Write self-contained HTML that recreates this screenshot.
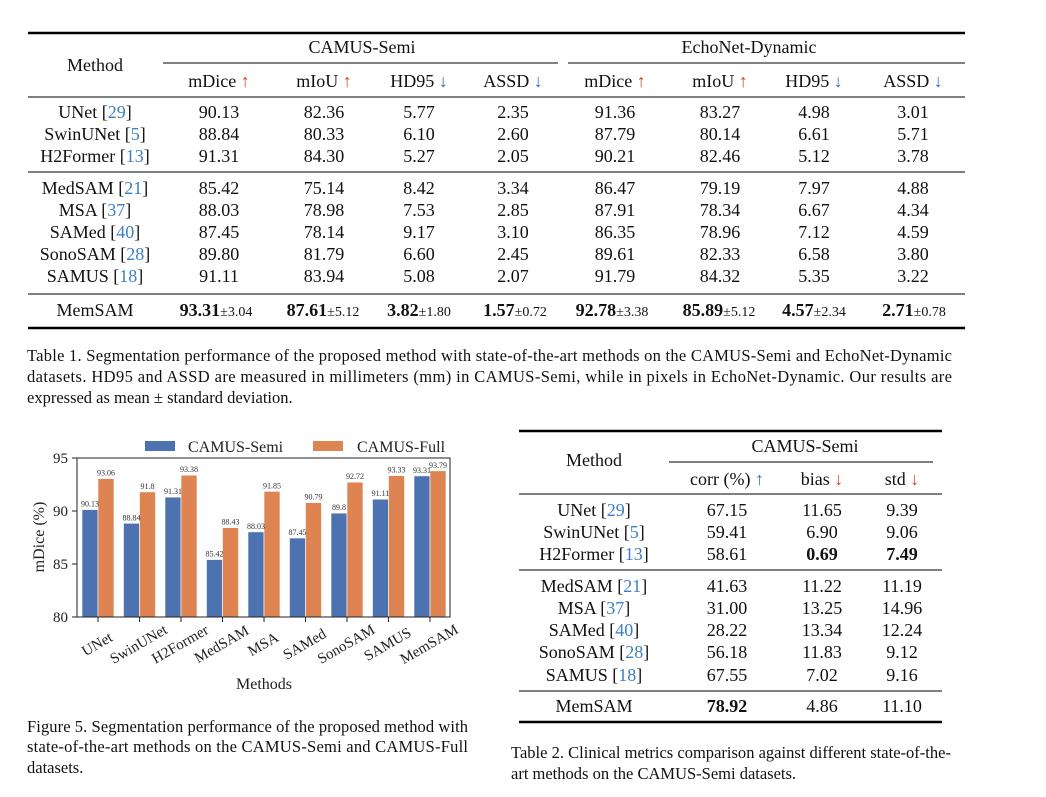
<!DOCTYPE html>
<html><head><meta charset="utf-8"><style>
html,body{margin:0;padding:0;background:#fff;}
svg{display:block;font-family:"Liberation Serif",serif;}
.t{font-size:18px;fill:#111;}
.c{font-size:16.5px;fill:#111;}
.r{fill:#3b7fc4;}
.up{fill:#c8442a;}
.dn{fill:#2f6fb5;}
.s{font-size:14px;}
</style></head><body>
<svg width="1046" height="797" viewBox="0 0 1046 797" xmlns="http://www.w3.org/2000/svg">
<g class="t" text-anchor="middle">
<line x1="28" y1="33" x2="965" y2="33" stroke="#000" stroke-width="2.4"/>
<text x="95" y="71">Method</text>
<text x="362" y="53">CAMUS-Semi</text>
<text x="749" y="53">EchoNet-Dynamic</text>
<line x1="163" y1="63" x2="558" y2="63" stroke="#000" stroke-width="1"/>
<line x1="568" y1="63" x2="965" y2="63" stroke="#000" stroke-width="1"/>
<text x="219" y="87">mDice <tspan class="up">↑</tspan></text>
<text x="324" y="87">mIoU <tspan class="up">↑</tspan></text>
<text x="419" y="87">HD95 <tspan class="dn">↓</tspan></text>
<text x="513" y="87">ASSD <tspan class="dn">↓</tspan></text>
<text x="615" y="87">mDice <tspan class="up">↑</tspan></text>
<text x="720" y="87">mIoU <tspan class="up">↑</tspan></text>
<text x="814" y="87">HD95 <tspan class="dn">↓</tspan></text>
<text x="913" y="87">ASSD <tspan class="dn">↓</tspan></text>
<line x1="28" y1="97" x2="965" y2="97" stroke="#000" stroke-width="1"/>
<text x="95" y="118">UNet [<tspan class="r">29</tspan>]</text><text x="219" y="118">90.13</text><text x="324" y="118">82.36</text><text x="419" y="118">5.77</text><text x="513" y="118">2.35</text><text x="615" y="118">91.36</text><text x="720" y="118">83.27</text><text x="814" y="118">4.98</text><text x="913" y="118">3.01</text>
<text x="95" y="140">SwinUNet [<tspan class="r">5</tspan>]</text><text x="219" y="140">88.84</text><text x="324" y="140">80.33</text><text x="419" y="140">6.10</text><text x="513" y="140">2.60</text><text x="615" y="140">87.79</text><text x="720" y="140">80.14</text><text x="814" y="140">6.61</text><text x="913" y="140">5.71</text>
<text x="95" y="162">H2Former [<tspan class="r">13</tspan>]</text><text x="219" y="162">91.31</text><text x="324" y="162">84.30</text><text x="419" y="162">5.27</text><text x="513" y="162">2.05</text><text x="615" y="162">90.21</text><text x="720" y="162">82.46</text><text x="814" y="162">5.12</text><text x="913" y="162">3.78</text>
<line x1="28" y1="172" x2="965" y2="172" stroke="#000" stroke-width="1"/>
<text x="95" y="194">MedSAM [<tspan class="r">21</tspan>]</text><text x="219" y="194">85.42</text><text x="324" y="194">75.14</text><text x="419" y="194">8.42</text><text x="513" y="194">3.34</text><text x="615" y="194">86.47</text><text x="720" y="194">79.19</text><text x="814" y="194">7.97</text><text x="913" y="194">4.88</text>
<text x="95" y="216">MSA [<tspan class="r">37</tspan>]</text><text x="219" y="216">88.03</text><text x="324" y="216">78.98</text><text x="419" y="216">7.53</text><text x="513" y="216">2.85</text><text x="615" y="216">87.91</text><text x="720" y="216">78.34</text><text x="814" y="216">6.67</text><text x="913" y="216">4.34</text>
<text x="95" y="238">SAMed [<tspan class="r">40</tspan>]</text><text x="219" y="238">87.45</text><text x="324" y="238">78.14</text><text x="419" y="238">9.17</text><text x="513" y="238">3.10</text><text x="615" y="238">86.35</text><text x="720" y="238">78.96</text><text x="814" y="238">7.12</text><text x="913" y="238">4.59</text>
<text x="95" y="260">SonoSAM [<tspan class="r">28</tspan>]</text><text x="219" y="260">89.80</text><text x="324" y="260">81.79</text><text x="419" y="260">6.60</text><text x="513" y="260">2.45</text><text x="615" y="260">89.61</text><text x="720" y="260">82.33</text><text x="814" y="260">6.58</text><text x="913" y="260">3.80</text>
<text x="95" y="282">SAMUS [<tspan class="r">18</tspan>]</text><text x="219" y="282">91.11</text><text x="324" y="282">83.94</text><text x="419" y="282">5.08</text><text x="513" y="282">2.07</text><text x="615" y="282">91.79</text><text x="720" y="282">84.32</text><text x="814" y="282">5.35</text><text x="913" y="282">3.22</text>
<line x1="28" y1="294" x2="965" y2="294" stroke="#000" stroke-width="1"/>
<text x="95" y="316">MemSAM</text>
<text x="216" y="316"><tspan font-weight="bold">93.31</tspan><tspan class="s">±3.04</tspan></text>
<text x="323" y="316"><tspan font-weight="bold">87.61</tspan><tspan class="s">±5.12</tspan></text>
<text x="419" y="316"><tspan font-weight="bold">3.82</tspan><tspan class="s">±1.80</tspan></text>
<text x="515" y="316"><tspan font-weight="bold">1.57</tspan><tspan class="s">±0.72</tspan></text>
<text x="612" y="316"><tspan font-weight="bold">92.78</tspan><tspan class="s">±3.38</tspan></text>
<text x="719" y="316"><tspan font-weight="bold">85.89</tspan><tspan class="s">±5.12</tspan></text>
<text x="814" y="316"><tspan font-weight="bold">4.57</tspan><tspan class="s">±2.34</tspan></text>
<text x="914" y="316"><tspan font-weight="bold">2.71</tspan><tspan class="s">±0.78</tspan></text>
<line x1="28" y1="328" x2="965" y2="328" stroke="#000" stroke-width="2.4"/>
</g>
<g class="c">
<text x="27" y="361" textLength="925" lengthAdjust="spacing">Table 1.  Segmentation performance of the proposed method with state-of-the-art methods on the CAMUS-Semi and EchoNet-Dynamic</text>
<text x="27" y="382" textLength="925" lengthAdjust="spacing">datasets.  HD95 and ASSD are measured in millimeters (mm) in CAMUS-Semi, while in pixels in EchoNet-Dynamic.  Our results are</text>
<text x="27" y="403">expressed as mean ± standard deviation.</text>
</g>

<g font-family="Liberation Serif,serif">
<rect x="145" y="441" width="30" height="10" fill="#4c72b0"/>
<text x="188" y="452" font-size="16" fill="#222">CAMUS-Semi</text>
<rect x="313" y="441" width="30" height="10" fill="#dd8452"/>
<text x="357" y="452" font-size="16" fill="#222">CAMUS-Full</text>
<g id="bars"></g>
<rect x="77" y="458" width="373" height="159" fill="none" stroke="#222" stroke-width="1"/>
<g font-size="15" fill="#222" text-anchor="end">
<text x="68" y="463">95</text><text x="68" y="516">90</text><text x="68" y="569">85</text><text x="68" y="622">80</text>
</g>
<g stroke="#222"><line x1="72" y1="458" x2="77" y2="458"/><line x1="72" y1="511" x2="77" y2="511"/><line x1="72" y1="564" x2="77" y2="564"/><line x1="72" y1="617" x2="77" y2="617"/></g>
<text transform="translate(44,537) rotate(-90)" font-size="16" text-anchor="middle" fill="#222">mDice (%)</text>
<text x="264" y="689" font-size="16" text-anchor="middle" fill="#222">Methods</text>
</g>
<g class="c">
<text x="27" y="732" textLength="441" lengthAdjust="spacing">Figure 5. Segmentation performance of the proposed method with</text>
<text x="27" y="752" textLength="441" lengthAdjust="spacing">state-of-the-art methods on the CAMUS-Semi and CAMUS-Full</text>
<text x="27" y="773">datasets.</text>
</g>

<g class="t" text-anchor="middle">
<line x1="519" y1="431" x2="942" y2="431" stroke="#000" stroke-width="2.4"/>
<text x="594" y="466">Method</text>
<text x="805" y="452">CAMUS-Semi</text>
<line x1="669" y1="462" x2="933" y2="462" stroke="#000" stroke-width="1"/>
<text x="727" y="485">corr (%) <tspan class="dn">↑</tspan></text>
<text x="822" y="485">bias <tspan class="up">↓</tspan></text>
<text x="902" y="485">std <tspan class="up">↓</tspan></text>
<line x1="519" y1="494" x2="942" y2="494" stroke="#000" stroke-width="1"/>
<text x="594" y="516">UNet [<tspan class="r">29</tspan>]</text><text x="727" y="516">67.15</text><text x="822" y="516">11.65</text><text x="902" y="516">9.39</text>
<text x="594" y="538">SwinUNet [<tspan class="r">5</tspan>]</text><text x="727" y="538">59.41</text><text x="822" y="538">6.90</text><text x="902" y="538">9.06</text>
<text x="594" y="560">H2Former [<tspan class="r">13</tspan>]</text><text x="727" y="560">58.61</text><text x="822" y="560" font-weight="bold">0.69</text><text x="902" y="560" font-weight="bold">7.49</text>
<line x1="519" y1="570" x2="942" y2="570" stroke="#000" stroke-width="1"/>
<text x="594" y="592">MedSAM [<tspan class="r">21</tspan>]</text><text x="727" y="592">41.63</text><text x="822" y="592">11.22</text><text x="902" y="592">11.19</text>
<text x="594" y="614">MSA [<tspan class="r">37</tspan>]</text><text x="727" y="614">31.00</text><text x="822" y="614">13.25</text><text x="902" y="614">14.96</text>
<text x="594" y="636">SAMed [<tspan class="r">40</tspan>]</text><text x="727" y="636">28.22</text><text x="822" y="636">13.34</text><text x="902" y="636">12.24</text>
<text x="594" y="658">SonoSAM [<tspan class="r">28</tspan>]</text><text x="727" y="658">56.18</text><text x="822" y="658">11.83</text><text x="902" y="658">9.12</text>
<text x="594" y="681">SAMUS [<tspan class="r">18</tspan>]</text><text x="727" y="681">67.55</text><text x="822" y="681">7.02</text><text x="902" y="681">9.16</text>
<line x1="519" y1="691" x2="942" y2="691" stroke="#000" stroke-width="1"/>
<text x="594" y="712">MemSAM</text><text x="727" y="712" font-weight="bold">78.92</text><text x="822" y="712">4.86</text><text x="902" y="712">11.10</text>
<line x1="519" y1="722" x2="942" y2="722" stroke="#000" stroke-width="2.4"/>
</g>
<g class="c">
<text x="511" y="758" textLength="440" lengthAdjust="spacing">Table 2. Clinical metrics comparison against different state-of-the-</text>
<text x="511" y="779">art methods on the CAMUS-Semi datasets.</text>
</g>
</svg>
<script>
(function(){
var names=["UNet","SwinUNet","H2Former","MedSAM","MSA","SAMed","SonoSAM","SAMUS","MemSAM"];
var a=[90.13,88.84,91.31,85.42,88.03,87.45,89.8,91.11,93.31];
var b=[93.06,91.8,93.38,88.43,91.85,90.79,92.72,93.33,93.79];
var la=["90.13","88.84","91.31","85.42","88.03","87.45","89.8","91.11","93.31"];
var lb=["93.06","91.8","93.38","88.43","91.85","90.79","92.72","93.33","93.79"];
function y(v){return 617-(v-80)*10.6;}
var s="";
for(var i=0;i<9;i++){
 var c=98+i*41.5;
 s+='<rect x="'+(c-16)+'" y="'+y(a[i])+'" width="16" height="'+(617-y(a[i]))+'" fill="#4c72b0" stroke="#fff" stroke-width="0.6"/>';
 s+='<rect x="'+c+'" y="'+y(b[i])+'" width="16" height="'+(617-y(b[i]))+'" fill="#dd8452" stroke="#fff" stroke-width="0.6"/>';
 s+='<text x="'+(c-8)+'" y="'+(y(a[i])-3)+'" font-size="8" text-anchor="middle" fill="#333">'+la[i]+'</text>';
 s+='<text x="'+(c+8)+'" y="'+(y(b[i])-3)+'" font-size="8" text-anchor="middle" fill="#333">'+lb[i]+'</text>';
 s+='<line x1="'+c+'" y1="617" x2="'+c+'" y2="622" stroke="#222"/>';
 s+='<text transform="translate('+(c-1)+',644) rotate(-30)" y="5" font-size="15" text-anchor="middle" fill="#222">'+names[i]+'</text>';
}
document.getElementById("bars").innerHTML=s;
})();
</script>
</body></html>
